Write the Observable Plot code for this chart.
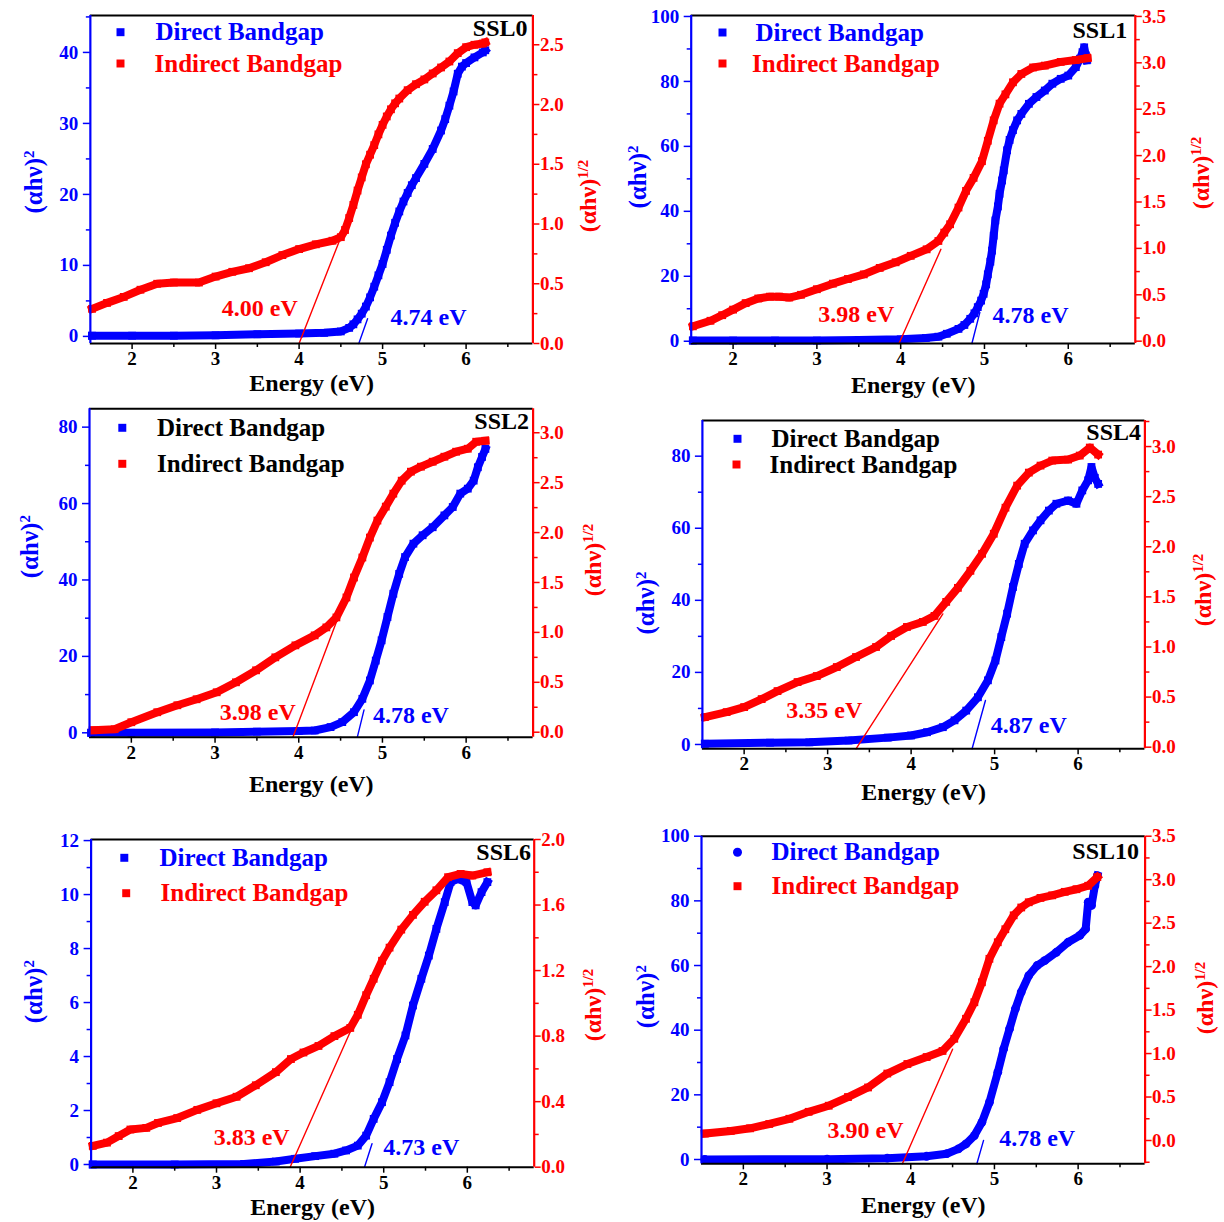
<!DOCTYPE html>
<html>
<head>
<meta charset="utf-8">
<script src="https://cdn.jsdelivr.net/npm/d3@7"></script>
<script src="https://cdn.jsdelivr.net/npm/@observablehq/plot@0.6"></script>
<style>
  html, body { margin: 0; padding: 0; background: #ffffff; }
  #page { position: relative; width: 1224px; height: 1222px; overflow: hidden; background: #ffffff; }
  #page > svg { position: absolute; }
</style>
</head>
<body>
<div id="page"></div>
<script>
// ---------------- DATA ----------------
const energyTicks = [2, 3, 4, 5, 6];
const energyMinorTicks = [1.5, 2.5, 3.5, 4.5, 5.5, 6.5];
const panelNames = ["SSL0", "SSL1", "SSL2", "SSL4", "SSL6", "SSL10"];
const seriesNames = ["Direct Bandgap", "Indirect Bandgap"];

// SSL0  [energy eV, (αhν)^2] and [energy eV, (αhν)^1/2]
const ssl0Direct = [[1.52,0.1],[2.0,0.1],[2.5,0.1],[3.0,0.15],[3.5,0.3],[4.0,0.4],[4.3,0.5],[4.5,0.7],[4.6,1.2],[4.65,1.7],[4.7,2.4],[4.75,3.2],[4.8,4.2],[4.85,5.5],[4.9,7.0],[4.95,8.6],[5.0,10.2],[5.05,12.2],[5.1,14.2],[5.15,16.0],[5.2,17.6],[5.25,19.0],[5.3,20.2],[5.35,21.3],[5.4,22.3],[5.5,24.3],[5.6,26.4],[5.7,29.0],[5.75,30.6],[5.8,32.5],[5.85,34.5],[5.9,37.0],[5.95,38.0],[6.0,38.5],[6.1,39.3],[6.2,40.0],[6.23,40.3]];
const ssl0Indirect = [[1.52,0.29],[1.7,0.34],[1.9,0.39],[2.1,0.45],[2.3,0.5],[2.5,0.51],[2.8,0.51],[3.0,0.56],[3.2,0.6],[3.4,0.63],[3.6,0.68],[3.8,0.74],[4.0,0.79],[4.2,0.83],[4.4,0.86],[4.5,0.89],[4.55,0.95],[4.6,1.05],[4.65,1.16],[4.7,1.28],[4.75,1.39],[4.8,1.5],[4.85,1.58],[4.9,1.66],[4.95,1.75],[5.0,1.83],[5.05,1.9],[5.1,1.96],[5.15,2.01],[5.2,2.05],[5.3,2.12],[5.4,2.17],[5.5,2.21],[5.6,2.26],[5.7,2.31],[5.8,2.36],[5.9,2.43],[6.0,2.48],[6.1,2.5],[6.2,2.51],[6.23,2.52]];
const ssl0DirectFit = [[4.715,-1],[4.82,2.5]];
const ssl0IndirectFit = [[4.0,0],[4.5,0.89]];
const ssl0Gaps = [["4.00 eV",3.53,3.9],["4.74 eV",5.55,2.7]];
const ssl0LeftTicks = [0,10,20,30,40];
const ssl0RightTicks = [0,0.5,1.0,1.5,2.0,2.5];

// SSL1
const ssl1Direct = [[1.52,0.2],[2.0,0.2],[2.5,0.2],[3.0,0.2],[3.5,0.4],[4.0,0.6],[4.3,1.0],[4.45,1.4],[4.55,2.3],[4.69,3.8],[4.76,5.0],[4.83,6.9],[4.88,8.6],[4.92,10.5],[4.96,12.5],[4.99,14.6],[5.02,17.5],[5.04,20.6],[5.07,24.5],[5.09,27.9],[5.11,32.5],[5.13,37.2],[5.16,41.5],[5.18,45.4],[5.21,49.5],[5.23,52.6],[5.27,58.8],[5.3,62.0],[5.34,65.0],[5.39,68.0],[5.44,70.0],[5.53,73.1],[5.62,75.2],[5.72,77.2],[5.81,79.3],[5.91,80.8],[6.0,81.8],[6.09,84.4],[6.14,87.0],[6.17,89.0],[6.19,90.5],[6.21,88.0],[6.22,86.5]];
const ssl1Indirect = [[1.52,0.16],[1.73,0.22],[1.87,0.28],[2.0,0.34],[2.15,0.41],[2.3,0.46],[2.44,0.48],[2.55,0.48],[2.67,0.47],[2.81,0.5],[3.0,0.56],[3.19,0.62],[3.37,0.67],[3.56,0.72],[3.75,0.79],[3.94,0.85],[4.12,0.92],[4.31,0.99],[4.45,1.08],[4.52,1.17],[4.59,1.26],[4.69,1.44],[4.78,1.62],[4.87,1.76],[4.97,1.94],[5.04,2.16],[5.11,2.38],[5.18,2.56],[5.25,2.66],[5.34,2.79],[5.44,2.88],[5.58,2.95],[5.72,2.97],[5.91,3.01],[6.09,3.03],[6.23,3.05]];
const ssl1DirectFit = [[4.85,-0.7],[4.945,8.9]];
const ssl1IndirectFit = [[3.98,-0.025],[4.48,0.99]];
const ssl1Gaps = [["3.98 eV",3.47,8.4],["4.78 eV",5.55,7.9]];
const ssl1LeftTicks = [0,20,40,60,80,100];
const ssl1RightTicks = [0,0.5,1.0,1.5,2.0,2.5,3.0,3.5];

// SSL2
const ssl2Direct = [[1.52,0.0],[2.0,0.0],[3.0,0.1],[3.5,0.3],[4.0,0.5],[4.19,0.6],[4.38,1.5],[4.52,2.8],[4.66,5.4],[4.76,8.9],[4.85,13.7],[4.92,18.9],[4.99,24.2],[5.06,30.3],[5.13,36.4],[5.2,41.6],[5.27,46.0],[5.37,49.5],[5.48,51.7],[5.6,53.8],[5.74,56.9],[5.84,59.1],[5.93,62.6],[6.02,63.9],[6.09,66.0],[6.14,69.5],[6.19,72.2],[6.23,74.3]];
const ssl2Indirect = [[1.54,0.02],[1.8,0.03],[2.0,0.1],[2.31,0.2],[2.55,0.27],[2.78,0.33],[3.02,0.4],[3.25,0.5],[3.49,0.62],[3.72,0.75],[3.96,0.87],[4.19,0.97],[4.33,1.05],[4.45,1.15],[4.57,1.35],[4.66,1.55],[4.76,1.75],[4.85,1.95],[4.94,2.12],[5.04,2.26],[5.13,2.39],[5.23,2.52],[5.34,2.61],[5.46,2.66],[5.6,2.71],[5.74,2.76],[5.88,2.81],[6.02,2.84],[6.12,2.91],[6.23,2.92]];
const ssl2DirectFit = [[4.70,-1.15],[4.78,6.0]];
const ssl2IndirectFit = [[3.93,-0.05],[4.47,1.15]];
const ssl2Gaps = [["3.98 eV",3.51,5.4],["4.78 eV",5.34,4.5]];
const ssl2LeftTicks = [0,20,40,60,80];
const ssl2RightTicks = [0,0.5,1.0,1.5,2.0,2.5,3.0];

// SSL4
const ssl4Direct = [[1.53,0.2],[2.31,0.5],[2.78,0.6],[3.25,1.1],[3.72,1.9],[4.0,2.5],[4.19,3.4],[4.38,4.8],[4.52,6.7],[4.66,9.4],[4.8,13.1],[4.92,17.8],[5.01,23.3],[5.08,29.8],[5.15,36.3],[5.22,43.7],[5.29,50.1],[5.36,55.7],[5.46,59.4],[5.55,62.2],[5.65,64.9],[5.74,66.8],[5.88,67.7],[5.98,66.8],[6.05,70.5],[6.12,73.3],[6.16,77.0],[6.2,74.0],[6.24,72.3]];
const ssl4Indirect = [[1.53,0.3],[1.79,0.35],[2.0,0.4],[2.21,0.48],[2.4,0.56],[2.64,0.65],[2.87,0.71],[3.11,0.8],[3.34,0.9],[3.58,1.0],[3.76,1.11],[3.95,1.2],[4.14,1.25],[4.28,1.31],[4.42,1.45],[4.56,1.59],[4.71,1.76],[4.85,1.93],[4.99,2.13],[5.13,2.39],[5.27,2.61],[5.41,2.74],[5.55,2.81],[5.69,2.86],[5.88,2.87],[6.02,2.91],[6.14,2.99],[6.24,2.92]];
const ssl4DirectFit = [[4.73,-1.2],[4.89,12.2]];
const ssl4IndirectFit = [[3.34,-0.016],[4.38,1.33]];
const ssl4Gaps = [["3.35 eV",2.96,9.4],["4.87 eV",5.41,5.3]];
const ssl4LeftTicks = [0,20,40,60,80];
const ssl4RightTicks = [0,0.5,1.0,1.5,2.0,2.5,3.0];

// SSL6
const ssl6Direct = [[1.52,0.0],[2.5,0.0],[3.33,0.02],[3.71,0.11],[3.94,0.21],[4.18,0.31],[4.41,0.4],[4.55,0.52],[4.69,0.7],[4.79,1.07],[4.88,1.69],[4.98,2.31],[5.07,3.05],[5.16,3.91],[5.26,4.78],[5.35,5.89],[5.45,6.88],[5.54,7.74],[5.63,8.73],[5.73,9.72],[5.8,10.46],[5.89,10.58],[5.99,10.46],[6.06,9.72],[6.1,9.6],[6.17,10.09],[6.24,10.46]];
const ssl6Indirect = [[1.52,0.13],[1.69,0.15],[1.83,0.19],[1.97,0.23],[2.16,0.24],[2.3,0.27],[2.53,0.3],[2.77,0.35],[3.0,0.39],[3.24,0.43],[3.47,0.5],[3.71,0.58],[3.89,0.66],[4.04,0.7],[4.22,0.74],[4.41,0.8],[4.6,0.85],[4.69,0.93],[4.79,1.05],[4.88,1.15],[4.98,1.26],[5.07,1.34],[5.21,1.45],[5.35,1.54],[5.49,1.62],[5.63,1.69],[5.77,1.77],[5.92,1.79],[6.06,1.78],[6.24,1.8]];
const ssl6DirectFit = [[4.77,-0.1],[4.86,0.77]];
const ssl6IndirectFit = [[3.88,0],[4.62,0.85]];
const ssl6Gaps = [["3.83 eV",3.42,1.0],["4.73 eV",5.45,0.64]];
const ssl6LeftTicks = [0,2,4,6,8,10,12];
const ssl6RightTicks = [0,0.4,0.8,1.2,1.6,2.0];

// SSL10
const ssl10Direct = [[1.54,0.0],[3.0,0.1],[3.72,0.4],[4.19,1.0],[4.43,1.8],[4.57,3.3],[4.66,4.8],[4.76,7.4],[4.85,11.5],[4.94,17.7],[5.04,27.0],[5.11,34.2],[5.18,40.4],[5.25,46.6],[5.32,51.8],[5.41,56.9],[5.51,60.0],[5.6,61.5],[5.74,64.1],[5.88,67.2],[6.02,69.3],[6.09,71.3],[6.12,79.6],[6.16,78.6],[6.2,84.7],[6.23,87.8]];
const ssl10Indirect = [[1.54,0.08],[1.85,0.11],[2.08,0.14],[2.31,0.19],[2.55,0.25],[2.78,0.33],[3.02,0.4],[3.25,0.5],[3.49,0.61],[3.72,0.77],[3.96,0.88],[4.19,0.96],[4.38,1.03],[4.52,1.17],[4.66,1.4],[4.76,1.59],[4.85,1.82],[4.94,2.09],[5.04,2.28],[5.13,2.43],[5.23,2.59],[5.32,2.68],[5.41,2.74],[5.55,2.79],[5.69,2.82],[5.84,2.86],[5.98,2.89],[6.12,2.93],[6.23,3.03]];
const ssl10DirectFit = [[4.79,-1.33],[4.87,5.9]];
const ssl10IndirectFit = [[3.90,-0.268],[4.5,1.05]];
const ssl10Gaps = [["3.90 eV",3.46,9.0],["4.78 eV",5.51,6.4]];
const ssl10LeftTicks = [0,20,40,60,80,100];
const ssl10RightTicks = [0,0.5,1.0,1.5,2.0,2.5,3.0,3.5];

// ---------------- LAYOUT / STYLE ----------------
const RED = "#ff0000", BLUE = "#0000ff", BLACK = "#000000";
const FONT = "'Liberation Serif','Times New Roman',serif";
const energyDomain = [1.5, 6.8];

const panels = [
  {name: panelNames[0], direct: ssl0Direct, indirect: ssl0Indirect, dFit: ssl0DirectFit, iFit: ssl0IndirectFit, gaps: ssl0Gaps,
   leftDomain: [-1, 45.2], rightDomain: [0, 2.745], leftTicks: ssl0LeftTicks, leftStep: 10, rightTicks: ssl0RightTicks, rightStep: 0.5,
   sx: 0, sy: 0, h: 400, frame: [89.85, 15, 532.4, 343], legendColors: [BLUE, RED], dSym: "square",
   leg: [[120, 31.7, 155], [120, 63, 154]], nameAt: [527, 28], xTitleDy: 40, lTitle: [33, 182], rTitle: [588, 196]},
  {name: panelNames[1], direct: ssl1Direct, indirect: ssl1Indirect, dFit: ssl1DirectFit, iFit: ssl1IndirectFit, gaps: ssl1Gaps,
   leftDomain: [-0.7, 100.3], rightDomain: [-0.025, 3.51], leftTicks: ssl1LeftTicks, leftStep: 20, rightTicks: ssl1RightTicks, rightStep: 0.5,
   sx: 612, sy: 0, h: 400, frame: [690.7, 15, 1134.8, 343], legendColors: [BLUE, RED], dSym: "square",
   leg: [[722, 32, 755], [722, 63, 751.5]], nameAt: [1126.7, 30], xTitleDy: 41.5, lTitle: [637.5, 177], rTitle: [1201, 173]},
  {name: panelNames[2], direct: ssl2Direct, indirect: ssl2Indirect, dFit: ssl2DirectFit, iFit: ssl2IndirectFit, gaps: ssl2Gaps,
   leftDomain: [-1.15, 84.8], rightDomain: [-0.05, 3.24], leftTicks: ssl2LeftTicks, leftStep: 20, rightTicks: ssl2RightTicks, rightStep: 0.5,
   sx: 0, sy: 400, h: 415, frame: [89, 408.3, 532.6, 736.7], legendColors: [BLACK, BLACK], dSym: "square",
   leg: [[121.8, 427.3, 156.4], [121.8, 463.3, 156.4]], nameAt: [528.5, 421], xTitleDy: 47.5, lTitle: [29.5, 546.7], rTitle: [593, 560]},
  {name: panelNames[3], direct: ssl4Direct, indirect: ssl4Indirect, dFit: ssl4DirectFit, iFit: ssl4IndirectFit, gaps: ssl4Gaps,
   leftDomain: [-1.2, 89.9], rightDomain: [-0.016, 3.26], leftTicks: ssl4LeftTicks, leftStep: 20, rightTicks: ssl4RightTicks, rightStep: 0.5,
   sx: 612, sy: 400, h: 415, frame: [701.9, 420, 1144.4, 748.3], legendColors: [BLACK, BLACK], dSym: "square",
   leg: [[737, 438.3, 771], [736, 464, 769]], nameAt: [1140.5, 432], xTitleDy: 44, lTitle: [645.4, 603], rTitle: [1203, 590]},
  {name: panelNames[4], direct: ssl6Direct, indirect: ssl6Indirect, dFit: ssl6DirectFit, iFit: ssl6IndirectFit, gaps: ssl6Gaps,
   leftDomain: [-0.1, 12.04], rightDomain: [0, 2.0], leftTicks: ssl6LeftTicks, leftStep: 2, rightTicks: ssl6RightTicks, rightStep: 0.4,
   sx: 0, sy: 815, h: 407, frame: [90.6, 839, 533.7, 1166.7], legendColors: [BLUE, RED], dSym: "square",
   leg: [[123.8, 857.3, 159], [125.7, 892.7, 160]], nameAt: [530.5, 852], xTitleDy: 40, lTitle: [33, 991.7], rTitle: [593, 1005]},
  {name: panelNames[5], direct: ssl10Direct, indirect: ssl10Indirect, dFit: ssl10DirectFit, iFit: ssl10IndirectFit, gaps: ssl10Gaps,
   leftDomain: [-1.33, 100], rightDomain: [-0.268, 3.5], leftTicks: ssl10LeftTicks, leftStep: 20, rightTicks: ssl10RightTicks, rightStep: 0.5,
   sx: 612, sy: 815, h: 407, frame: [701, 835.7, 1144.6, 1163.3], legendColors: [BLUE, RED], dSym: "circle",
   leg: [[737, 851.7, 771], [737, 885.7, 771]], nameAt: [1138.5, 851], xTitleDy: 42, lTitle: [645, 996.7], rTitle: [1205, 998]}
];

const page = document.getElementById("page");
const fmtR = d3.format(".1f");

function minorBetween(ticks, step, lo, hi) {
  const out = [];
  for (let i = -1; i < ticks.length; i++) {
    const v = (i < 0 ? ticks[0] - step : ticks[i]) + step / 2;
    if (v > lo && v < hi) out.push(+v.toFixed(4));
  }
  return out;
}

function yTitle(svg, x, y, color, sup, size, supSize) {
  const t = d3.select(svg).append("text")
    .attr("transform", `translate(${x},${y}) rotate(-90)`)
    .attr("text-anchor", "middle")
    .attr("fill", color)
    .attr("font-family", FONT)
    .attr("font-weight", "bold")
    .attr("font-size", size);
  t.append("tspan").attr("dy", "0.35em").text("(αhν)");
  t.append("tspan").attr("dy", "-0.55em").attr("font-size", supSize).text(sup);
}

for (const p of panels) {
  const [fx0, fy0, fx1, fy1] = p.frame;
  const W = 612;
  const ml = fx0 - p.sx, mr = p.sx + W - fx1, mt = fy0 - p.sy, mb = p.sy + p.h - fy1;
  const toLeft = d3.scaleLinear().domain(p.rightDomain).range(p.leftDomain);
  const leftMinor = minorBetween(p.leftTicks, p.leftStep, p.leftDomain[0], p.leftDomain[1]);
  const rightMinor = minorBetween(p.rightTicks, p.rightStep, p.rightDomain[0], p.rightDomain[1]);
  const X = d => d[0], YL = d => d[1], YR = d => toLeft(d[1]);
  const TXT = {fontWeight: "bold", lineAnchor: "middle"};

  const svg = Plot.plot({
    width: W, height: p.h,
    marginLeft: ml, marginRight: mr, marginTop: mt, marginBottom: mb,
    x: {domain: energyDomain, label: null},
    y: {domain: p.leftDomain, label: null},
    style: {fontFamily: FONT, fontWeight: "bold", background: "transparent", overflow: "visible"},
    marks: [
      Plot.line(p.direct, {x: X, y: YL, stroke: BLUE, strokeWidth: 8, strokeLinejoin: "round", strokeLinecap: "square"}),
      Plot.dot(p.direct, {x: X, y: YL, symbol: p.dSym, r: 4.4, fill: BLUE}),
      Plot.line(p.indirect, {x: X, y: YR, stroke: RED, strokeWidth: 8, strokeLinejoin: "round", strokeLinecap: "square"}),
      Plot.dot(p.indirect, {x: X, y: YR, symbol: "square", r: 4.4, fill: RED}),
      Plot.line(p.dFit, {x: X, y: YL, stroke: BLUE, strokeWidth: 1.4}),
      Plot.line(p.iFit, {x: X, y: YR, stroke: RED, strokeWidth: 1.4}),
      Plot.ruleY([p.leftDomain[0]], {stroke: BLACK, strokeWidth: 2}),
      Plot.ruleY([p.leftDomain[1]], {stroke: BLACK, strokeWidth: 2}),
      Plot.ruleX([energyDomain[0]], {stroke: BLUE, strokeWidth: 2.2}),
      Plot.ruleX([energyDomain[1]], {stroke: RED, strokeWidth: 2.2}),
      Plot.axisX({ticks: energyTicks, tickSize: 6, tickPadding: 2, fontSize: 19, fontWeight: "bold", tickFormat: d3.format("d"), label: null, strokeWidth: 1.5, color: BLACK}),
      Plot.axisX({ticks: energyMinorTicks.filter(v => v > energyDomain[0] && v < energyDomain[1]), tickSize: 4, tickFormat: () => "", label: null, strokeWidth: 1.5, color: BLACK}),
      Plot.axisY({anchor: "left", ticks: p.leftTicks, tickSize: 7, tickPadding: 5, fontSize: 19, fontWeight: "bold", tickFormat: d3.format("d"), label: null, strokeWidth: 1.5, color: BLUE}),
      Plot.axisY({anchor: "left", ticks: leftMinor, tickSize: 4, tickFormat: () => "", label: null, strokeWidth: 1.5, color: BLUE}),
      Plot.axisY({anchor: "right", ticks: p.rightTicks.map(toLeft), tickSize: 6, tickPadding: 1, fontSize: 19, fontWeight: "bold",
                  tickFormat: d => fmtR(Math.round(toLeft.invert(d) * 100) / 100 + 0), label: null, strokeWidth: 1.5, color: RED}),
      Plot.axisY({anchor: "right", ticks: rightMinor.map(toLeft), tickSize: 4, tickFormat: () => "", label: null, strokeWidth: 1.5, color: RED}),
      Plot.text([p.gaps[0]], {x: d => d[1], y: d => d[2], text: d => d[0], fill: RED, fontSize: 24, ...TXT}),
      Plot.text([p.gaps[1]], {x: d => d[1], y: d => d[2], text: d => d[0], fill: BLUE, fontSize: 24, ...TXT}),
      // legend
      Plot.dot([0], {frameAnchor: "top-left", dx: p.leg[0][0] - fx0, dy: p.leg[0][1] - fy0, symbol: p.dSym, r: 4.5, fill: BLUE}),
      Plot.dot([0], {frameAnchor: "top-left", dx: p.leg[1][0] - fx0, dy: p.leg[1][1] - fy0, symbol: "square", r: 4.5, fill: RED}),
      Plot.text([seriesNames[0]], {frameAnchor: "top-left", dx: p.leg[0][2] - fx0, dy: p.leg[0][1] - fy0, textAnchor: "start", fill: p.legendColors[0], fontSize: 25, ...TXT}),
      Plot.text([seriesNames[1]], {frameAnchor: "top-left", dx: p.leg[1][2] - fx0, dy: p.leg[1][1] - fy0, textAnchor: "start", fill: p.legendColors[1], fontSize: 25, ...TXT}),
      // panel name
      Plot.text([p.name], {frameAnchor: "top-right", dx: p.nameAt[0] - fx1, dy: p.nameAt[1] - fy0, textAnchor: "end", fill: BLACK, fontSize: 24, ...TXT}),
      // x title
      Plot.text(["Energy (eV)"], {frameAnchor: "bottom", dy: p.xTitleDy, fill: BLACK, fontSize: 24, ...TXT})
    ]
  });
  svg.style.left = p.sx + "px";
  svg.style.top = p.sy + "px";
  yTitle(svg, p.lTitle[0] - p.sx, p.lTitle[1] - p.sy, BLUE, "2", 25, 15);
  yTitle(svg, p.rTitle[0] - p.sx, p.rTitle[1] - p.sy, RED, "1/2", 24, 15);
  page.appendChild(svg);
}
</script>
</body>
</html>
